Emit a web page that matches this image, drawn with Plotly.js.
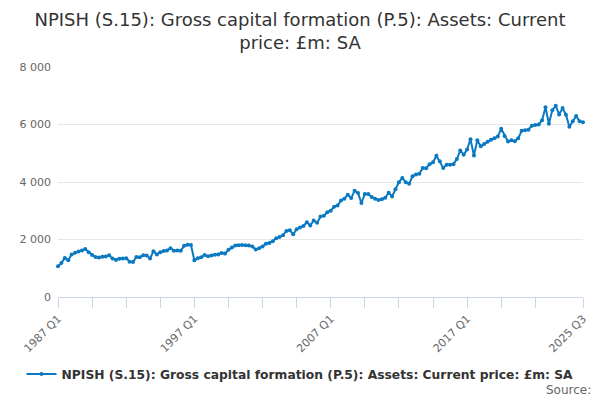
<!DOCTYPE html>
<html>
<head>
<meta charset="utf-8">
<script src="https://cdn.plot.ly/plotly-3.0.1.min.js"></script>
<style>html,body{margin:0;padding:0;background:#fff;}#chart{width:600px;height:400px;}</style>
</head>
<body>
<div id="chart"></div>
<script>
const startYear = 1987;
const nQuarters = 155;
const quarters = [];
for (let i = 0; i < nQuarters; i++) {
  quarters.push((startYear + Math.floor(i / 4)) + ' Q' + (i % 4 + 1));
}
const values = [
  1070,1180,1360,1280,1480,1540,1580,1620,1670,1560,
  1460,1390,1370,1400,1410,1450,1340,1290,1330,1340,
  1350,1230,1220,1390,1380,1450,1440,1340,1590,1480,
  1560,1600,1620,1700,1610,1620,1610,1780,1820,1810,
  1280,1350,1380,1460,1420,1440,1470,1480,1530,1510,
  1640,1720,1790,1800,1810,1800,1790,1760,1650,1700,
  1760,1850,1880,1940,2040,2090,2150,2300,2320,2180,
  2360,2420,2470,2600,2490,2660,2580,2800,2830,2950,
  3000,3140,3180,3360,3420,3560,3440,3700,3620,3270,
  3580,3580,3480,3420,3370,3400,3450,3630,3500,3750,
  3990,4140,3990,3940,4200,4260,4290,4490,4480,4620,
  4690,4910,4720,4490,4600,4600,4620,4800,5100,4950,
  5130,5490,4920,5450,5240,5320,5400,5470,5520,5580,
  5850,5600,5410,5450,5420,5520,5780,5800,5820,5960,
  5980,6000,6150,6600,6030,6500,6650,6350,6570,6340,
  5920,6110,6300,6110,6080
];
const seriesName = 'NPISH (S.15): Gross capital formation (P.5): Assets: Current price: £m: SA';
const chartTitle = 'NPISH (S.15): Gross capital formation (P.5): Assets: Current<br>price: £m: SA';
const labelledTicks = ['1987 Q1','1997 Q1','2007 Q1','2017 Q1','2025 Q3'];
const tickIdx = [0,10,20,30,40,50,60,70,80,90,100,110,120,130,140,154];
const tickVals = tickIdx.map(i => quarters[i]);
const tickText = tickVals.map(q => labelledTicks.includes(q) ? q : '');
const yTicks = [0, 2000, 4000, 6000, 8000];
const yTickText = ['0', '2 000', '4 000', '6 000', '8 000'];

const trace = {
  x: quarters,
  y: values,
  type: 'scatter',
  mode: 'lines+markers',
  name: seriesName,
  line: {color: '#0a79c2', width: 2},
  marker: {color: '#0a79c2', size: 4},
  cliponaxis: false,
  showlegend: true
};

const layout = {
  width: 600, height: 400,
  margin: {l: 58, r: 17, t: 67, b: 103},
  paper_bgcolor: '#fff', plot_bgcolor: '#fff',
  font: {family: 'DejaVu Sans, sans-serif', color: '#666'},
  title: {text: chartTitle, x: 0.5, xanchor: 'center', y: 0.935, yanchor: 'top', yref: 'container',
          font: {family: 'DejaVu Sans, sans-serif', size: 18, color: '#333'}},
  xaxis: {
    type: 'category', range: [0, 154],
    tickmode: 'array', tickvals: tickVals, ticktext: tickText,
    tickangle: -45, ticks: 'outside', ticklen: 10, tickcolor: '#ccd6eb', tickwidth: 1,
    showline: true, linecolor: '#ccd6eb', linewidth: 1,
    showgrid: false, zeroline: false,
    tickfont: {size: 11, color: '#666'}
  },
  yaxis: {
    range: [0, 8000], tickmode: 'array', tickvals: yTicks, ticktext: yTickText,
    showgrid: true, gridcolor: '#e6e6e6', gridwidth: 1,
    zeroline: false, showline: false, ticks: '',
    ticklabelstandoff: 6,
    tickfont: {size: 11, color: '#666'}
  },
  showlegend: true,
  legend: {orientation: 'h', x: 0.461, xanchor: 'center', y: -0.335, yanchor: 'middle',
           font: {size: 12.3, color: '#333', family: 'DejaVu Sans, sans-serif', weight: 'bold'}},
  annotations: [{text: 'Source:', xref: 'paper', yref: 'paper', x: 1.0, xanchor: 'right',
                 y: -0.405, yanchor: 'middle', showarrow: false, xshift: 10,
                 font: {size: 12, color: '#666'}}]
};

Plotly.newPlot('chart', [trace], layout, {displayModeBar: false, staticPlot: true});
</script>
</body>
</html>
